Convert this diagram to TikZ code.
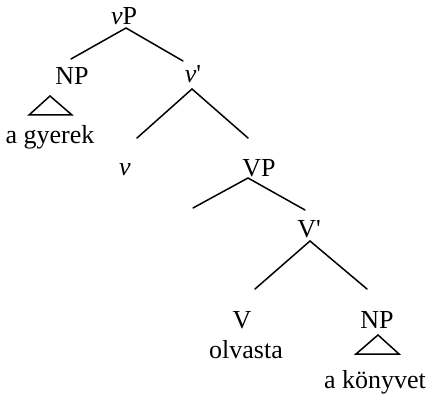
\documentclass[tikz,border=0pt]{standalone}
\usepackage{fontspec}
\setmainfont{Liberation Serif}
\begin{document}
\begin{tikzpicture}[x=1pt,y=-1pt,
  lbl/.style={anchor=base, inner sep=0pt, font=\fontsize{26}{30}\selectfont},
  br/.style={line width=1.5pt, line cap=round},
  tri/.style={line width=1.5pt, line join=miter}]
\useasboundingbox (0,0) rectangle (428,398);
% labels
\node[lbl] (vP) at (124,25) {\textit{v}P};
\node[lbl] (np1) at (72,85) {NP};
\node[lbl] (gy) at (50,144) {a gyerek};
\node[lbl] (vbar) at (193,83) {\textit{v}\textquotesingle};
\node[lbl] (v) at (125,176) {\textit{v}};
\node[lbl] (VP) at (259,177) {VP};
\node[lbl] (Vbar) at (309,237) {V\textquotesingle};
\node[lbl] (V) at (242,328) {V};
\node[lbl] (olv) at (246,358) {olvasta};
\node[lbl] (np2) at (377,328) {NP};
\node[lbl] (kv) at (375,388) {a könyvet};
% branch points
\coordinate (vPa) at (126,28);
\coordinate (vPl) at (71,59);
\coordinate (vPr) at (183,61);
\coordinate (vba) at (192,89);
\coordinate (vbl) at (137,138);
\coordinate (vbr) at (248,138);
\coordinate (VPa) at (248,178);
\coordinate (VPl) at (193,208);
\coordinate (VPr) at (305,210);
\coordinate (Vba) at (310,241);
\coordinate (Vbl) at (255,289);
\coordinate (Vbr) at (367,289);
\draw[br] (vPl) -- (vPa) -- (vPr);
\draw[br] (vbl) -- (vba) -- (vbr);
\draw[br] (VPl) -- (VPa) -- (VPr);
\draw[br] (Vbl) -- (Vba) -- (Vbr);
% triangles
\coordinate (t1a) at (50,96);
\coordinate (t1l) at (29,115);
\coordinate (t1r) at (72,115);
\coordinate (t2a) at (378,335);
\coordinate (t2l) at (356,354);
\coordinate (t2r) at (399,354);
\draw[tri] (t1a) -- (t1l) -- (t1r) -- cycle;
\draw[tri] (t2a) -- (t2l) -- (t2r) -- cycle;
\end{tikzpicture}
\end{document}
